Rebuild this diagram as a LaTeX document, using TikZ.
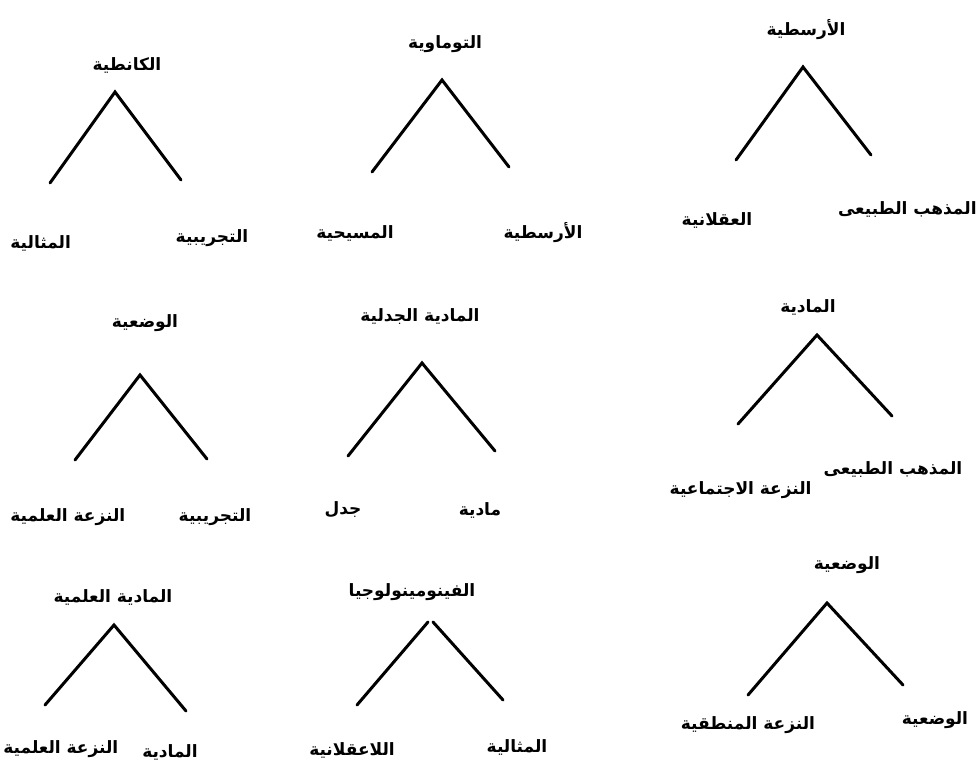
\documentclass[tikz,border=0pt]{standalone}
\usepackage{fontspec}
\newfontfamily\arabicfont[Script=Arabic]{DejaVu Sans}
\TeXXeTstate=1
\usepackage{tikz}
\usetikzlibrary{positioning}

\newcommand{\artext}[1]{\beginR #1\endR}

\tikzset{
  school/.style={font=\arabicfont\bfseries\fontsize{8.5}{10}\selectfont, inner sep=0pt},
  branch/.style={line width=1.5pt, line cap=round}
}

\begin{document}
\begin{tikzpicture}[x=0.5pt, y=-0.5pt]
  \useasboundingbox (0,0) rectangle (978,774);

  % top row
  \node[school] (kant) at (127,65) {\artext{الكانطية}};
  \coordinate (kant-top) at (115,92);
  \coordinate (kant-l) at (50,183);
  \coordinate (kant-r) at (181,180);
  \node[school, anchor=west] (kant-idealism) at (10,243) {\artext{المثالية}};
  \node[school] (kant-empiricism) at (212,238) {\artext{التجريبية}};
  \draw[branch] (kant-l) -- (kant-top) -- (kant-r);

  \node[school] (thomism) at (445,44) {\artext{التوماوية}};
  \coordinate (thomism-top) at (442,80);
  \coordinate (thomism-l) at (372,172);
  \coordinate (thomism-r) at (509,167);
  \node[school] (thomism-christian) at (355,233) {\artext{المسيحية}};
  \node[school] (thomism-aristotle) at (543,233) {\artext{الأرسطية}};
  \draw[branch] (thomism-l) -- (thomism-top) -- (thomism-r);

  \node[school] (aristotle) at (806,30) {\artext{الأرسطية}};
  \coordinate (aristotle-top) at (803,67);
  \coordinate (aristotle-l) at (736,160);
  \coordinate (aristotle-r) at (871,155);
  \node[school] (aristotle-rational) at (717,220) {\artext{العقلانية}};
  \node[school, anchor=east] (aristotle-natural) at (977,210) {\artext{المذهب الطبيعى}};
  \draw[branch] (aristotle-l) -- (aristotle-top) -- (aristotle-r);

  % middle row
  \node[school] (positivism) at (145,323) {\artext{الوضعية}};
  \coordinate (positivism-top) at (140,375);
  \coordinate (positivism-l) at (75,460);
  \coordinate (positivism-r) at (207,459);
  \node[school, anchor=west] (positivism-science) at (10,517) {\artext{النزعة العلمية}};
  \node[school] (positivism-empiricism) at (215,517) {\artext{التجريبية}};
  \draw[branch] (positivism-l) -- (positivism-top) -- (positivism-r);

  \node[school] (dialectic) at (420,317) {\artext{المادية الجدلية}};
  \coordinate (dialectic-top) at (422,363);
  \coordinate (dialectic-l) at (348,456);
  \coordinate (dialectic-r) at (495,451);
  \node[school] (dialectic-dialectic) at (343,510) {\artext{جدل}};
  \node[school] (dialectic-matter) at (480,510) {\artext{مادية}};
  \draw[branch] (dialectic-l) -- (dialectic-top) -- (dialectic-r);

  \node[school] (materialism) at (808,307) {\artext{المادية}};
  \coordinate (materialism-top) at (817,335);
  \coordinate (materialism-l) at (738,424);
  \coordinate (materialism-r) at (892,416);
  \node[school, anchor=east] (materialism-social) at (812,490) {\artext{النزعة الاجتماعية}};
  \node[school] (materialism-natural) at (893,470) {\artext{المذهب الطبيعى}};
  \draw[branch] (materialism-l) -- (materialism-top) -- (materialism-r);

  % bottom row
  \node[school] (scimat) at (113,597) {\artext{المادية العلمية}};
  \coordinate (scimat-top) at (114,625);
  \coordinate (scimat-l) at (45,705);
  \coordinate (scimat-r) at (186,711);
  \node[school, anchor=west] (scimat-science) at (3,749) {\artext{النزعة العلمية}};
  \node[school] (scimat-matter) at (170,752) {\artext{المادية}};
  \draw[branch] (scimat-l) -- (scimat-top) -- (scimat-r);

  \node[school] (phenom) at (412,592) {\artext{الفينومينولوجيا}};
  \coordinate (phenom-top-l) at (428,622);
  \coordinate (phenom-top-r) at (433,622);
  \coordinate (phenom-l) at (357,705);
  \coordinate (phenom-r) at (503,700);
  \node[school] (phenom-irrational) at (352,750) {\artext{اللاعقلانية}};
  \node[school] (phenom-idealism) at (517,747) {\artext{المثالية}};
  \draw[branch] (phenom-l) -- (phenom-top-l);
  \draw[branch] (phenom-top-r) -- (phenom-r);

  \node[school] (logpos) at (847,565) {\artext{الوضعية}};
  \coordinate (logpos-top) at (827,603);
  \coordinate (logpos-l) at (748,695);
  \coordinate (logpos-r) at (903,685);
  \node[school] (logpos-logic) at (748,725) {\artext{النزعة المنطقية}};
  \node[school] (logpos-positivism) at (935,720) {\artext{الوضعية}};
  \draw[branch] (logpos-l) -- (logpos-top) -- (logpos-r);
\end{tikzpicture}
\end{document}
